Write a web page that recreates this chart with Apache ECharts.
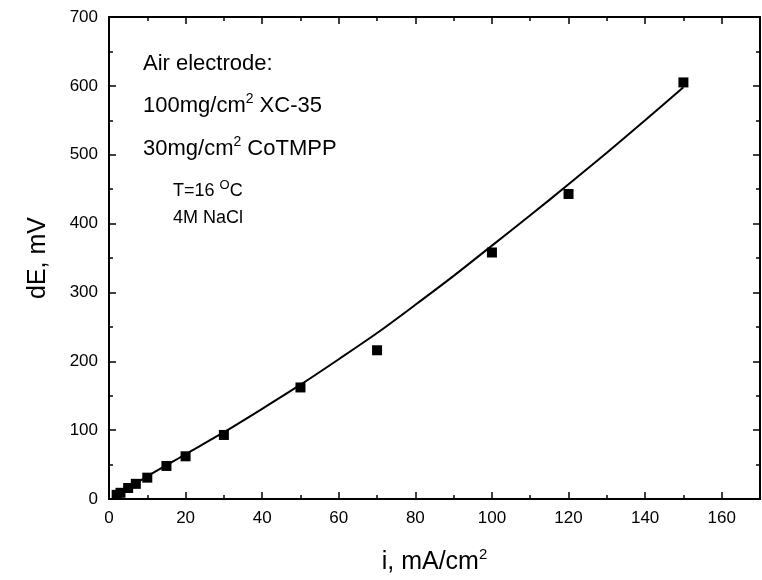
<!DOCTYPE html>
<html>
<head>
<meta charset="utf-8">
<script src="https://cdn.jsdelivr.net/npm/echarts@6/dist/echarts.min.js"></script>
<style>html,body{margin:0;padding:0;background:#fff}#c{width:762px;height:580px}</style>
</head>
<body>
<div id="c"></div>
<script>
// Measured points
var currentDensity = [2, 3, 5, 7, 10, 15, 20, 30, 50, 70, 100, 120, 150];
var potentialDrop = [6, 9, 16, 22, 31, 48, 62, 93, 162, 216, 358, 443, 605];
// Fitted curve
var fitX = [2, 10, 20, 30, 40, 50, 60, 70, 80, 90, 100, 110, 120, 130, 140, 150];
var fitY = [6, 33, 65, 97, 131, 166, 203, 241, 282, 324, 368, 412, 457, 503, 550, 598];
var xTicks = [0, 20, 40, 60, 80, 100, 120, 140, 160];
var yTicks = [0, 100, 200, 300, 400, 500, 600, 700];

var FONT = '"Liberation Sans", Arial, sans-serif';
var chart = echarts.init(document.getElementById('c'));

function axisCommon(showLabel) {
  return {
    axisLine: { show: true, onZero: false, lineStyle: { color: '#000', width: 2 } },
    axisTick: { show: true, inside: true, length: 7, lineStyle: { color: '#000', width: 1.5 } },
    minorTick: { show: true, splitNumber: 2, length: 4, lineStyle: { color: '#000', width: 1.5 } },
    splitLine: { show: false },
    axisLabel: { show: showLabel, color: '#000', fontSize: 17, fontFamily: FONT, margin: 11 }
  };
}

var xMain = Object.assign(axisCommon(true), {
  type: 'value', min: 0, max: 170, interval: 20, position: 'bottom',
  name: 'i, mA/cm{sup|2}', nameLocation: 'middle', nameGap: 48,
  nameTextStyle: { color: '#000', fontSize: 25, fontFamily: FONT,
    rich: { sup: { fontSize: 15, fontFamily: FONT, color: '#000', padding: [0, 0, 16, 0] } } }
});
xMain.axisLabel.formatter = function (v) { return xTicks.indexOf(v) >= 0 ? String(v) : ''; };
xMain.axisLabel.showMaxLabel = false;
var xTop = Object.assign(axisCommon(false), { type: 'value', min: 0, max: 170, interval: 20, position: 'top' });

var yMain = Object.assign(axisCommon(true), {
  type: 'value', min: 0, max: 700, interval: 100, position: 'left',
  name: 'dE, mV', nameLocation: 'middle', nameGap: 58,
  nameTextStyle: { color: '#000', fontSize: 25, fontFamily: FONT }
});
yMain.axisLabel.formatter = function (v) { return yTicks.indexOf(v) >= 0 ? String(v) : ''; };
var yRight = Object.assign(axisCommon(false), { type: 'value', min: 0, max: 700, interval: 100, position: 'right' });

chart.setOption({
  animation: false,
  backgroundColor: '#fff',
  grid: { left: 109, right: 2, top: 17, bottom: 79, containLabel: false },
  xAxis: [xMain, xTop],
  yAxis: [yMain, yRight],
  series: [
    {
      type: 'line', xAxisIndex: 0, yAxisIndex: 0,
      data: fitX.map(function (x, i) { return [x, fitY[i]]; }),
      smooth: 0.3, showSymbol: false, symbol: 'none',
      lineStyle: { color: '#000', width: 2 }, z: 2
    },
    {
      type: 'scatter', xAxisIndex: 0, yAxisIndex: 0,
      data: currentDensity.map(function (x, i) { return [x, potentialDrop[i]]; }),
      symbol: 'rect', symbolSize: 10,
      itemStyle: { color: '#000', opacity: 1 }, z: 3
    }
  ],
  graphic: [
    { type: 'text', left: 143, top: 53, style: { text: 'Air electrode:', fill: '#000', font: '22px ' + FONT } },
    { type: 'text', left: 143, top: 92, style: {
        text: '100mg/cm{s|2} XC-35', fill: '#000', font: '22px ' + FONT,
        rich: { s: { fontSize: 14, fontFamily: FONT, fill: '#000', padding: [0, 0, 14, 0] } } } },
    { type: 'text', left: 143, top: 135, style: {
        text: '30mg/cm{s|2} CoTMPP', fill: '#000', font: '22px ' + FONT,
        rich: { s: { fontSize: 14, fontFamily: FONT, fill: '#000', padding: [0, 0, 14, 0] } } } },
    { type: 'text', left: 173, top: 179, style: {
        text: 'T=16 {s|O}C', fill: '#000', font: '18px ' + FONT,
        rich: { s: { fontSize: 13, fontFamily: FONT, fill: '#000', padding: [0, 0, 11, 0] } } } },
    { type: 'text', left: 173, top: 209, style: { text: '4M NaCl', fill: '#000', font: '18px ' + FONT } }
  ]
});
</script>
</body>
</html>
